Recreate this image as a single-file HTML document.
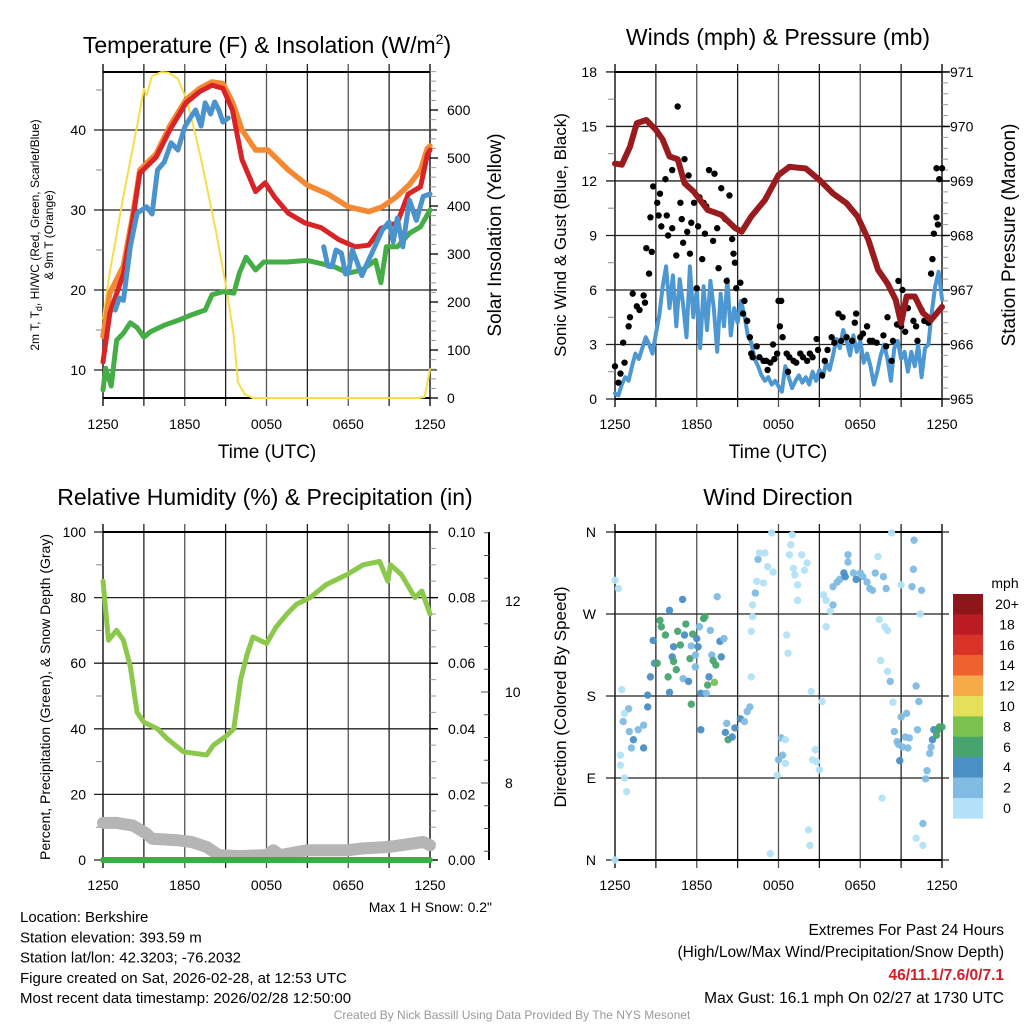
<!DOCTYPE html>
<html><head><meta charset="utf-8"><style>
html,body{margin:0;padding:0;background:#fff;}
svg{display:block;font-family:"Liberation Sans",Arial,sans-serif;}
</style></head><body>
<svg id="s" width="1024" height="1024" viewBox="0 0 1024 1024" xmlns="http://www.w3.org/2000/svg"></svg>
<script>
// ---------- DATA ----------
const redT=[0,0.5,1.5,2.2,2.7,3.9,4.9,6.1,7.1,8.0,8.8,9.5,10.2,11.2,11.9,12.6,13.6,14.8,16.0,17.3,18.5,19.5,20.4,21.6,22.4,23.3,23.8,24];
const redV=[11,17.1,22,29,34.6,36.6,40,43.4,44.8,45.6,45.2,42.5,36.3,32.3,33.4,31.6,29.6,28.4,27.8,26.3,25.4,25.6,27.7,28.4,32,32.9,36.9,37.5];
const orT=[0,0.5,1.5,2.2,2.7,3.9,4.9,6.1,7.1,8.0,8.8,9.5,10.2,11.2,12.1,13.6,15,16.5,18,19.5,20.5,21.5,22.5,23.3,23.8,24];
const orV=[14.2,19.6,23,29.5,35,37,40.5,43.8,45.2,46,45.8,43.5,40,37.5,37.5,35,33.1,32,30.4,29.8,30.4,31.6,33.2,35,37.7,38];
const blT1=[0.9,1.2,1.5,2,2.5,3.2,3.6,4,4.5,5,5.5,6,6.4,6.8,7.2,7.5,7.9,8.2,8.5,8.8,9.2];
const blV1=[17.5,19,18.7,25.4,29.6,30.4,29.5,35,36,38.4,37.5,40.4,41.5,42.5,40.5,43.4,42,43.5,42.5,41,41.5];
const blT2=[16.2,16.5,16.8,17.1,17.5,17.8,18,18.3,18.6,19,19.3,20.5,21,21.3,21.6,22,22.3,22.5,23,23.3,23.5,24];
const blV2=[25.4,23,22.9,25,24.6,22,22.1,25,23.7,21.8,23,27.5,28.5,26,29,25.4,29,31.2,28.7,30.5,31.7,32];
const grT=[0,0.2,0.6,1,1.5,2,2.5,3,3.5,4.5,5.5,6.5,7.5,8,8.8,9.6,10,10.5,11.2,11.8,13.5,15,16,17,18,19,20,20.4,20.8,21.6,22.5,23.3,24];
const grV=[7.5,10.2,8,13.7,14.6,15.9,15.3,14.1,14.8,15.6,16.2,16.9,17.5,19.4,19.8,19.6,22.1,24.1,22.5,23.5,23.5,23.7,23.3,22.9,22.1,22.5,23.7,20.9,25.4,25.4,27.1,27.9,30];
const solT=[0,0.5,1.5,2.5,3,3.2,3.6,4.3,4.8,5.5,6.2,7.2,8.3,9.1,9.6,9.9,10.4,11,23.2,23.6,24];
const solV=[165,262,420,567,644,630,671,679,678,665,617,498,346,221,129,33,8,0,0,2,60];
const presT=[0,0.5,1.1,1.6,2.3,3,3.5,4,4.6,5.1,5.8,6.8,7.8,8.8,9.3,10,11,12,12.8,14,15,16,17,17.8,18.6,19.3,20,20.6,21,21.4,22,22.6,23.2,24];
const presV=[969.32,969.3,969.63,970.06,970.12,969.94,969.76,969.45,969.4,968.96,968.8,968.47,968.38,968.14,968.07,968.35,968.65,969.11,969.26,969.23,969.02,968.77,968.59,968.35,967.92,967.37,967.12,966.82,966.39,966.88,966.88,966.58,966.45,966.69];
const windStep=0.25;
const windV=[0.3,0.2,0.8,1.2,1.0,1.8,2.5,2.2,2.8,3.4,3.0,2.5,3.6,
4.6,6.2,7.3,5.0,6.8,4.0,6.6,5.2,3.4,7.3,4.5,6.0,2.8,6.2,3.8,6.5,5.0,2.6,5.8,4.0,6.6,3.5,5.0,4.2,5.4,4.6,
3.5,3.1,
2.2,1.8,1.3,1.0,1.2,0.8,1.0,0.7,0.4,1.8,1.2,0.6,1.0,1.3,0.9,1.2,0.8,1.5,1.0,1.6,1.2,2.0,1.6,2.4,3.3,2.8,3.8,3.2,2.4,3.5,2.6,3.2,2.0,2.5,1.8,0.8,1.5,2.4,3.0,2.2,1.0,2.8,3.2,2.2,2.6,1.5,2.6,1.8,3.0,1.2,2.8,3.0,4.8,6.2,7.0,5.5];
const gustT=[0,0.25,0.4,0.6,0.7,1,1.1,1.3,1.6,1.8,2.1,2.2,2.3,2.5,2.6,2.7,2.8,3.1,3.2,3.3,3.4,3.7,3.8,3.9,4.2,4.2,4.6,4.5,4.8,4.9,5,5.1,5.3,5.4,5.5,5.6,5.8,6,6.1,6.2,6.4,6.5,6.6,6.7,6.9,7.2,7.3,7.5,7.6,7.8,8.1,8.2,8.4,8.6,8.7,8.8,8.9,9.2,9.4,9.5,9.7,9.9,10,10.1,10.4,10.6,10.9,11.1,11.2,11.4,11.6,11.7,11.9,12,12.1,12.2,12.3,12.6,12.7,12.8,13.1,13.3,13.6,13.8,14.1,14.3,14.5,14.8,14.9,15.2,15.4,15.6,15.9,16.1,16.4,16.6,16.7,17,17.4,17.6,17.7,18,18.2,18.5,18.7,18.9,19.2,19.7,19.9,20,20.3,20.4,20.7,20.8,21,21.1,21.3,21.5,21.9,22.1,22.2,22.5,22.7,23,23.2,23.3,23.4,23.6,23.7,23.6,23.8,24];
const gustV=[1.8,0.9,1.4,3.1,2,4,4.5,5.8,5.1,4.9,5.7,5.3,8.3,6.9,10,8.1,11.7,10.8,10.1,11.3,9.5,12.1,10.1,9,9.4,12.6,16.1,7.9,10.8,9.9,8.6,13.2,9.2,12.3,8,9.7,10.8,6.1,9.5,11.1,7.7,10.8,9.1,10.6,12.6,8.7,12.4,9.4,7.2,11.6,9.9,6.5,11.2,8.8,8,7.5,6.1,6.4,4.7,5.4,4.3,3.4,2.5,2.3,2.9,2.3,2.1,2.1,1.6,2,3,2.2,2.5,5.4,4,5.4,3.4,2.5,1.5,2.3,2.1,2,2.5,2.3,2.1,2.5,2.3,3.3,2.7,1.3,2.1,2.7,3.4,3.1,4.7,3.2,4.5,3.4,3.2,4.2,4.7,3.4,3.6,4,3.2,3.2,3.1,3.5,2.9,4.5,2.1,3.2,4.1,6.5,4,6,3.7,5,4.3,4,3.2,4.9,4.3,4.2,6.9,7.7,9.1,10,9.6,12.7,12.1,12.7];
const rhT=[0,0.4,1,1.5,2,2.5,3,4,4.7,5.9,7.6,8.1,9.1,9.6,10.1,10.6,11,12,12.7,13.5,14.2,15.2,16.4,17.9,19.1,20.3,20.9,21.1,21.9,22.9,23.4,24];
const rhV=[85,67,70,67,59,45,42,40,37,33,32,35,38,40,55,63,68,66,71,75,78,80,84,87,90,91,85,90,87,80,82,75];
const snowT=[0,1,2.2,2.6,3.2,3.6,5.5,6.5,7.6,8.5,10,12,12.5,13,15,18,19,21,23.5,24];
const snowV=[11.3,11.3,10.5,9.5,8,6.5,6,5.5,4,1.5,1.2,1.5,3,1.5,3,3,3.5,4,5.5,4.5];
const precipT=[0,24];
const precipV=[0,0];
const dirT=[0,0.25,0.5,1,0.7,0.6,1.05,1.35,1.2,1.7,
2.1,2.1,0.4,0.4,0.7,0.86,2.4,2.4,2.6,2.8,
2.9,3.1,3.3,3.4,3.7,3.9,4,4,4.2,4.3,
4.3,4.5,4.6,4.8,4.96,5,5.1,5.2,5.4,5.5,
5.6,5.6,5.7,5.9,6,6.1,5.9,6.2,6.3,6.3,
6.5,6.6,6.7,6.8,6.9,7,7.1,7.2,7.3,7.4,
7.5,7.7,7.8,8,8.2,8.1,8.3,8.6,8.8,9.2,
9.5,9.7,9.9,10,10,10.1,10.1,10.3,10.4,10.5,
10.6,10.9,11,11.2,11.6,11.5,11.9,12,12.2,12.3,
12.5,12.5,11.4,12.6,12.7,12.8,12.9,13,13.1,13.2,
13.4,13.4,13.7,13.9,14.1,14.2,14.3,14.4,14.7,14.5,
14.8,15,15.2,15.3,15.5,15.5,15.8,16,16,16.3,
16.5,16.8,16.9,17.1,17.1,17.5,17.7,18,18.2,18.5,
18.7,18.9,19.1,19.3,19.4,19.7,19.8,19.9,20,19.6,
19.5,20,20.2,20.3,20.4,20.5,20.7,20.8,20.9,21,
21,21.1,21.3,21.4,21.5,21.6,21.9,21.95,21.8,22.1,
22.2,22.3,22.4,22.5,22.1,22.6,22.6,22.9,22.8,23.1,
23.2,23.3,23.4,23.6,23.7,23.8,24,0];
const dirV=[307,298,187,166,161,152,141,132,123,143,
148,123,115,104,90,75,181,168,201,241,
216,216,263,256,247,201,184,274,223,234,
218,209,251,236,286,199,247,259,196,221,
235,171,248,212,243,234,225,256,183,143,
265,267,183,192,201,252,225,219,195,214,
289,240,223,243,150,140,132,135,145,155,
152,163,168,201,251,267,280,293,306,330,
337,304,337,322,316,359,93,110,134,115,
106,132,7,247,227,335,346,357,320,313,
302,285,335,318,326,33,16,185,121,110,
108,99,174,291,256,285,273,280,300,305,
308,315,311,327,335,315,308,315,311,305,
298,296,315,333,264,311,256,298,252,68,
219,207,196,359,173,141,130,127,109,302,
157,124,135,161,123,134,319,351,300,191,
143,174,270,296,24,40,16,98,89,117,
124,132,143,137,143,146,146,0];
const dirS=[1,1,1,3,1,3,3,5,3,3,
3,5,1,1,1,1,5,5,5,5,
5,7,7,7,7,7,5,5,5,5,
7,7,7,7,5,3,5,7,5,7,
3,7,7,3,5,5,3,3,5,5,
7,7,3,7,5,3,3,7,9,7,
3,5,5,3,3,5,7,5,5,5,
3,3,3,1,1,1,1,3,1,3,
1,1,1,1,1,1,1,3,3,3,
1,1,1,1,1,1,1,1,1,1,
1,1,1,1,1,1,1,1,1,1,
1,1,1,1,1,1,1,3,3,3,
3,5,5,3,3,3,5,3,3,3,
3,3,3,1,1,3,1,3,1,1,
1,1,3,1,1,3,3,3,5,1,
3,3,3,3,3,3,3,3,3,3,
3,3,1,3,1,3,1,3,3,3,
3,5,5,7,7,7,7,1];
const cbLabels=["20+","18","16","14","12","10","8","6","4","2","0"];
const cbColors=["#8e1519","#bb1b24","#d93327","#ef6230","#f6ab48","#e5e05a","#7bc14e","#48a46e","#4a8fc6","#7fbbe3","#b3e1f7"];
const timeLabels=["1250","1850","0050","0650","1250"];

// ---------- DRAW ----------
const S=document.getElementById('s');const NS="http://www.w3.org/2000/svg";
function el(tag,at,parent){const e=document.createElementNS(NS,tag);for(const k in at)e.setAttribute(k,at[k]);(parent||S).appendChild(e);return e;}
function txt(x,y,s,size,anchor,extra){const t=el('text',Object.assign({x:x,y:y,'font-size':size,'text-anchor':anchor||'middle',fill:'#000'},extra||{}));t.textContent=s;return t;}
function P(L,R,T,B){return {L,R,T,B,x:t=>L+(R-L)*t/24};}
function line(xs,ys,fx,fy,color,w,name){let d='';for(let i=0;i<xs.length;i++)d+=(i?'L':'M')+fx(xs[i]).toFixed(1)+' '+fy(ys[i]).toFixed(1);const p=el('path',{d:d,fill:'none',stroke:color,'stroke-width':w,'stroke-linejoin':'round','stroke-linecap':'round'});

return p;}
function frame(p,yticksMajor,minorL){
  const g=el('g',{});
  
  
  for(let i=0;i<=8;i++){const x=p.L+(p.R-p.L)*i/8;el('line',{x1:x,x2:x,y1:p.T-8,y2:p.B+8,stroke:i%2?'#222':'#555','stroke-width':i==0||i==8?2:1.3},g);}
  yticksMajor.forEach(y=>el('line',{x1:p.L-9,x2:p.R+7,y1:y,y2:y,stroke:'#222','stroke-width':1.3},g));
  (minorL||[]).forEach(y=>el('line',{x1:p.L-7,x2:p.L,y1:y,y2:y,stroke:'#888','stroke-width':1},g));
  el('line',{x1:p.L,x2:p.R,y1:p.T,y2:p.T,stroke:'#000','stroke-width':2},g);
  el('line',{x1:p.L,x2:p.R,y1:p.B,y2:p.B,stroke:'#000','stroke-width':2},g);
  return g;}
function xlabels(p,y){timeLabels.forEach((s,i)=>{const t=txt(p.L+(p.R-p.L)*i/4,y,s,14);

});}
function rightTicks(p,vals,fy,minor){vals.forEach(v=>el('line',{x1:p.R,x2:p.R+8,y1:fy(v),y2:fy(v),stroke:'#000','stroke-width':1.3}));(minor||[]).forEach(v=>el('line',{x1:p.R,x2:p.R+6,y1:fy(v),y2:fy(v),stroke:'#999','stroke-width':1}));}

// Panel 1
const p1=P(103,430,72,398);const ty=v=>370-(v-10)*8;const sy=v=>398-v*0.48;
frame(p1,[10,20,30,40].map(ty),[15,25,35,45].map(ty));
const sm=[];for(let v=20;v<=680;v+=20)if(v%100)sm.push(v);
rightTicks(p1,[0,100,200,300,400,500,600],sy,sm);
[10,20,30,40].forEach(v=>txt(86,ty(v)+5,String(v),14,'end'));
[0,100,200,300,400,500,600].forEach(v=>txt(447,sy(v)+5,String(v),14,'start'));
line(solT,solV,p1.x,sy,'#f7dd4a',2,'solar-line');
line(grT,grV,p1.x,ty,'#45ad45',5,'dewpoint-line');
line(orT,orV,p1.x,ty,'#f38a33',5.5,'temp-9m-line');
line(redT,redV,p1.x,ty,'#d82427',5,'temp-2m-line');
line(blT1,blV1,p1.x,ty,'#4a93cc',5,'heat-index-line');
line(blT2,blV2,p1.x,ty,'#4a93cc',5,'wind-chill-line');
xlabels(p1,429);
txt(267,53,'',23,'middle',{}).innerHTML='Temperature (F) &amp; Insolation (W/m<tspan dy="-9" font-size="14">2</tspan><tspan dy="9">)</tspan>';
txt(267,458,'Time (UTC)',19);
let t=txt(0,0,'',12,'middle',{transform:'translate(39,235) rotate(-90)'});t.innerHTML='2m T, T<tspan dy="3" font-size="9">d</tspan><tspan dy="-3">, HI/WC (Red, Green, Scarlet/Blue)</tspan>';
txt(0,0,'& 9m T (Orange)',12,'middle',{transform:'translate(53,235) rotate(-90)'});
txt(0,0,'Solar Insolation (Yellow)',19,'middle',{transform:'translate(501,235) rotate(-90)'});

// Panel 2
const p2=P(615,942,72,399);const wy=v=>399-v*18.17;const py=v=>399-(v-965)*54.5;
frame(p2,[0,3,6,9,12,15,18].map(wy),[1.5,4.5,7.5,10.5,13.5,16.5].map(wy));
const pm=[];for(let v=965.2;v<971;v+=0.2)if(Math.abs(v-Math.round(v))>0.05)pm.push(v);
rightTicks(p2,[965,966,967,968,969,970,971],py,pm);
[0,3,6,9,12,15,18].forEach(v=>txt(597,wy(v)+5,String(v),14,'end'));
[965,966,967,968,969,970,971].forEach(v=>txt(950,py(v)+5,String(v),14,'start'));
line(windV.map((v,i)=>i*windStep),windV,p2.x,wy,'#4d97d2',4,'sonic-wind-line');
gustT.forEach((tt,i)=>{const c=el('circle',{cx:p2.x(tt),cy:wy(gustV[i]),r:3.2,fill:'#000'});

});
line(presT,presV,p2.x,py,'#991b1e',6,'pressure-line');
xlabels(p2,429);
txt(778,45,'Winds (mph) & Pressure (mb)',23);
txt(778,458,'Time (UTC)',19);
txt(0,0,'Sonic Wind & Gust (Blue, Black)',17,'middle',{transform:'translate(566,235) rotate(-90)'});
txt(0,0,'Station Pressure (Maroon)',19,'middle',{transform:'translate(1015,235) rotate(-90)'});

// Panel 3
const p3=P(103,430,532,860);const ry=v=>860-v*3.28;const precy=v=>860-v*3280;const snowAx=v=>692-(v-10)*45.5;
frame(p3,[0,20,40,60,80,100].map(ry),[10,30,50,70,90].map(ry));
const rmn=[10,30,50,70,90,5,15,25,35,45,55,65,75,85,95];
rightTicks(p3,[0,20,40,60,80,100],ry,rmn);
[0,20,40,60,80,100].forEach(v=>txt(86,ry(v)+5,String(v),14,'end'));
['0.00','0.02','0.04','0.06','0.08','0.10'].forEach((s,i)=>txt(448,ry(i*20)+5,s,14,'start'));
el('line',{x1:489,x2:489,y1:532,y2:860,stroke:'#000','stroke-width':2});
for(let v=6;v<=13.5;v+=0.5){const yy=snowAx(v);if(yy>=532&&yy<=860)el('line',{x1:Number.isInteger(v)&&v%2==0?481:484,x2:489,y1:yy,y2:yy,stroke:'#555','stroke-width':1});}
[8,10,12].forEach(v=>txt(505,snowAx(v)+5,String(v),14,'start'));
line(snowT,snowV,p3.x,ry,'#b5b5b5',12,'snow-depth-line');
line(precipT,precipV,p3.x,precy,'#3aae45',6,'precip-line');
line(rhT,rhV,p3.x,ry,'#8cc84b',5,'rh-line');
xlabels(p3,890);
txt(265,505,'Relative Humidity (%) & Precipitation (in)',23);
txt(0,0,'Percent, Precipitation (Green), & Snow Depth (Gray)',14,'middle',{transform:'translate(50,697) rotate(-90)'});
txt(492,912,'Max 1 H Snow: 0.2"',14,'end');

// Panel 4
const p4=P(615,942,532,860);const dy=v=>860-v*(328/360);
frame(p4,[0,90,180,270,360].map(dy),[]);
['N','E','S','W','N'].forEach((s,i)=>txt(596,dy(i*90)+5,s,14,'end'));
function spdColor(s){return cbColors[10-Math.min(10,Math.floor((s||0)/2))];}
dirT.forEach((tt,i)=>{const c=el('circle',{cx:p4.x(tt),cy:dy(dirV[i]),r:3.7,fill:spdColor(dirS[i]),'fill-opacity':0.95});

});
xlabels(p4,890);
txt(778,505,'Wind Direction',23);
txt(0,0,'Direction (Colored By Speed)',17,'middle',{transform:'translate(566,697) rotate(-90)'});
txt(1005,588,'mph',14,'middle');
cbColors.forEach((c,i)=>{const r=el('rect',{x:953,y:594+i*20.4,width:30,height:20.6,fill:c});


txt(1007,594+i*20.4+15,cbLabels[i],14,'middle');});

// Footer text
['Location: Berkshire','Station elevation: 393.59 m','Station lat/lon: 42.3203; -76.2032','Figure created on Sat, 2026-02-28, at 12:53 UTC','Most recent data timestamp: 2026/02/28 12:50:00'].forEach((s,i)=>{const q=txt(20,922+i*20.3,s,15,'start');

});
txt(1004,935,'Extremes For Past 24 Hours',15.5,'end');
txt(1004,957,'(High/Low/Max Wind/Precipitation/Snow Depth)',15.5,'end');
txt(1004,980,'46/11.1/7.6/0/7.1',15.5,'end',{fill:'#d21f27','font-weight':'bold'});
txt(1004,1003,'Max Gust: 16.1 mph On 02/27 at 1730 UTC',15.5,'end');
txt(512,1019,'Created By Nick Bassill Using Data Provided By The NYS Mesonet',12,'middle',{fill:'#999'});
</script>
</body></html>
